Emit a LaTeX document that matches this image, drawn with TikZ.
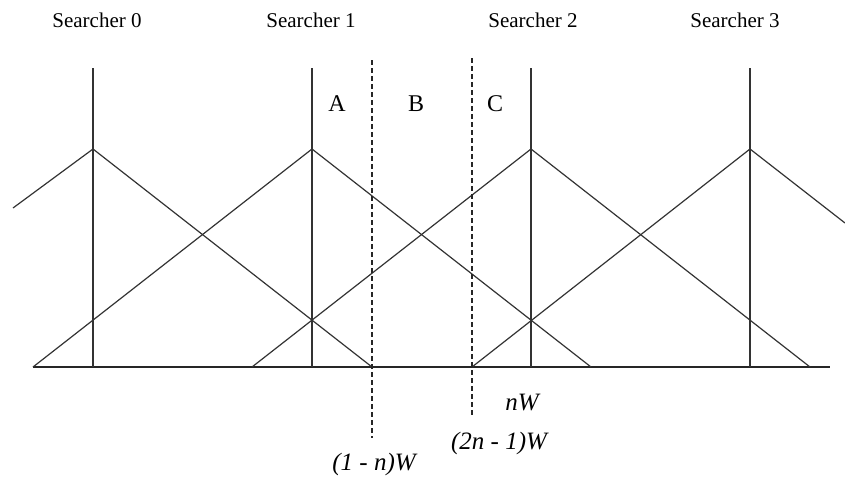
\documentclass[tikz,border=0pt]{standalone}
\usepackage{fontspec}
\setmainfont{Liberation Serif}
\begin{document}
\begin{tikzpicture}[x=1pt,y=-1pt,
  solidline/.style={draw=black!80, line width=1.2pt},
  axisline/.style={draw=black!85, line width=1.7pt},
  cutline/.style={draw=black!85, line width=1.6pt, dash pattern=on 5pt off 3pt},
  searcherlabel/.style={anchor=base, inner sep=0pt, font=\fontsize{21}{25}\selectfont},
  regionlabel/.style={anchor=base, inner sep=0pt, font=\fontsize{24}{28}\selectfont},
  mathlabel/.style={anchor=base, inner sep=0pt, font=\fontsize{25}{29}\selectfont\itshape}]
\useasboundingbox (0,0) rectangle (845,477);
% peaks, tops, bases of the four searchers
\foreach \i/\x in {0/93,1/312,2/531,3/750}{
  \coordinate (p\i) at (\x,149);
  \coordinate (t\i) at (\x,68);
  \coordinate (b\i) at (\x,367);
}
% feet of the triangles
\coordinate (l1) at (33,367);
\coordinate (r0) at (372,367);
\coordinate (l2) at (252,367);
\coordinate (r1) at (591,367);
\coordinate (l3) at (472,367);
\coordinate (r2) at (810,367);
\coordinate (l0) at (13,208);
\coordinate (r3) at (845,223);
\coordinate (axL) at (33,367);
\coordinate (axR) at (830,367);
% dashed cut lines
\coordinate (d1t) at (372,60);
\coordinate (d1b) at (372,438);
\coordinate (d2t) at (472,58);
\coordinate (d2b) at (472,415);

\draw[axisline] (axL) -- (axR);
\foreach \i in {0,1,2,3}{
  \draw[solidline] (t\i) -- (b\i);
  \draw[solidline] (l\i) -- (p\i) -- (r\i);
}
\draw[cutline] (d1t) -- (d1b);
\draw[cutline] (d2t) -- (d2b);

\node[searcherlabel] (s0) at (97,27) {Searcher 0};
\node[searcherlabel] (s1) at (311,27) {Searcher 1};
\node[searcherlabel] (s2) at (533,27) {Searcher 2};
\node[searcherlabel] (s3) at (735,27) {Searcher 3};

\node[regionlabel] (A) at (337,111) {A};
\node[regionlabel] (B) at (416,111) {B};
\node[regionlabel] (C) at (495,111) {C};

\node[mathlabel] (nW) at (522,410) {nW};
\node[mathlabel] (w2) at (499,449) {(2n - 1)W};
\node[mathlabel] (w1) at (374,470) {(1 - n)W};
\end{tikzpicture}
\end{document}
